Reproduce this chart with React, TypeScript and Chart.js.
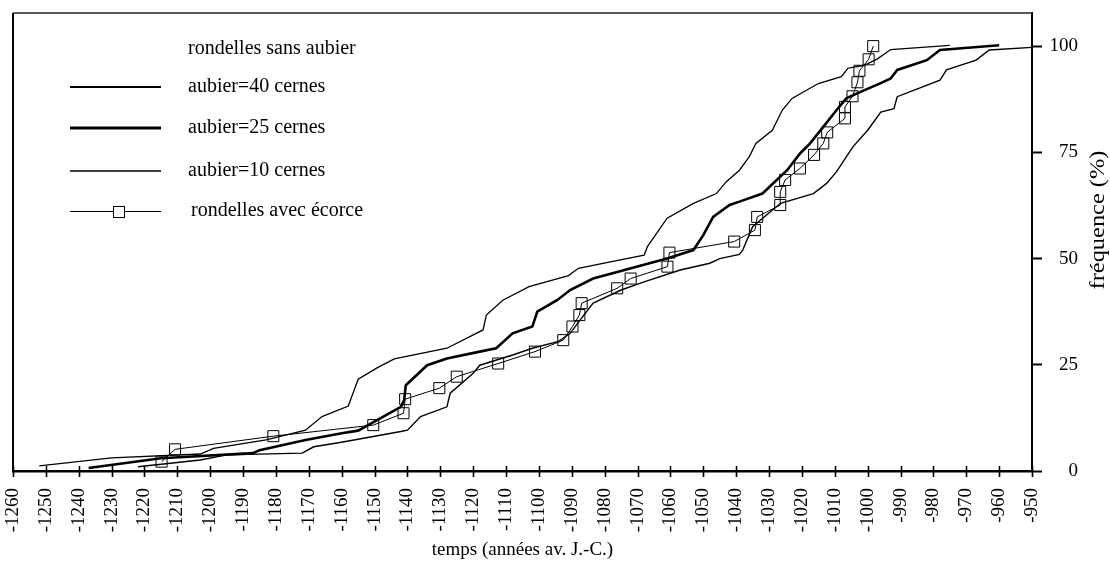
import React, { useEffect, useRef } from "react";
import { Chart, registerables } from "chart.js";

Chart.register(...registerables);

// ---- axes ----
const X_MIN = -1260;
const X_MAX = -950;
const Y_MIN = 0;
const Y_MAX = 107.8;
const xTickValues = [
  -1260, -1250, -1240, -1230, -1220, -1210, -1200, -1190, -1180, -1170, -1160,
  -1150, -1140, -1130, -1120, -1110, -1100, -1090, -1080, -1070, -1060, -1050,
  -1040, -1030, -1020, -1010, -1000, -990, -980, -970, -960, -950,
];
const yTickValues = [0, 25, 50, 75, 100];

const xTitle = "temps (années av. J.-C.)";
const yTitle = "fréquence (%)";
const legendHeader = "rondelles sans aubier";
const labelAubier40 = "aubier=40 cernes";
const labelAubier25 = "aubier=25 cernes";
const labelAubier10 = "aubier=10 cernes";
const labelEcorce = "rondelles avec écorce";

// ---- aubier = 10 cernes (leftmost curve) ----
const aubier10Years = [
  -1252, -1230, -1203, -1199, -1183, -1171, -1166, -1158, -1155, -1149, -1144,
  -1128, -1117, -1116, -1111, -1103, -1091, -1088, -1076, -1068, -1067, -1061,
  -1053, -1046, -1043, -1039, -1036, -1034, -1029, -1026, -1023, -1015, -1008,
  -1006, -1001, -997, -993, -975,
];
const aubier10Freq = [
  1.2, 3.1, 4.0, 5.3, 7.3, 9.6, 12.8, 15.3, 21.6, 24.4, 26.4, 28.9, 33.2, 36.7,
  40.2, 43.4, 46.0, 47.7, 49.6, 50.8, 52.8, 59.5, 63.0, 65.3, 68.1, 70.8, 74.0,
  77.1, 80.2, 84.9, 87.7, 91.2, 92.8, 94.8, 95.5, 97.0, 99.2, 100.2,
];

// ---- aubier = 25 cernes (thick middle curve) ----
const aubier25Years = [
  -1237, -1215, -1187, -1185, -1171, -1160, -1155, -1142, -1141, -1140.5, -1134,
  -1128, -1118, -1113, -1108, -1102, -1100.5, -1094.5, -1090.5, -1083.5, -1072,
  -1061, -1053, -1050, -1047, -1042, -1039, -1032, -1024.5, -1020.5, -1017.5,
  -1013.5, -1009.5, -1006.5, -1002, -996, -993, -991, -982, -978, -960,
];
const aubier25Freq = [
  0.7, 3.0, 4.2, 4.9, 7.3, 8.9, 9.5, 15.1, 16.7, 20.2, 24.9, 26.5, 28.1, 28.9,
  32.4, 34.0, 37.5, 40.2, 42.6, 45.3, 47.7, 50.0, 52.0, 55.5, 59.8, 62.6, 63.4,
  65.3, 70.8, 74.8, 77.1, 81.0, 84.9, 87.7, 89.3, 91.3, 92.4, 94.4, 96.7, 99.1,
  100.2,
];

// ---- aubier = 40 cernes (rightmost curve) ----
const aubier40Years = [
  -1222, -1203, -1195, -1172, -1168.5, -1160.5, -1142, -1140, -1136, -1128,
  -1127, -1120, -1118, -1108, -1102, -1094, -1090.5, -1087.5, -1083.5, -1075,
  -1068, -1057, -1048, -1045, -1039, -1038, -1035, -1026.5, -1016.5, -1012.5,
  -1009.5, -1004.5, -1000, -996, -992, -991, -978, -976, -967, -963, -950,
];
const aubier40Freq = [
  1.0, 2.6, 3.8, 4.2, 5.7, 6.7, 9.3, 9.6, 12.8, 15.1, 18.3, 23.0, 24.9, 27.3,
  28.9, 30.5, 32.4, 35.5, 39.5, 42.6, 44.5, 47.3, 48.9, 50.0, 51.0, 52.0, 57.5,
  63.0, 65.3, 67.7, 70.4, 76.3, 80.2, 84.5, 85.3, 88.1, 92.0, 94.4, 96.7, 99.1,
  99.7,
];

// ---- rondelles avec écorce (squares) ----
const ecorceYears = [
  -1214.8, -1210.7, -1180.8, -1150.4, -1141.2, -1140.7, -1130.3, -1125, -1112.4,
  -1101.2, -1092.6, -1089.8, -1087.7, -1087, -1076.2, -1072.1, -1060.9, -1060.3,
  -1040.6, -1034.3, -1033.6, -1026.6, -1026.6, -1025.1, -1020.6, -1016.3,
  -1013.5, -1012.3, -1006.9, -1006.9, -1004.6, -1003.1, -1002.5, -999.7, -998.3,
];
const ecorceFreq = [
  2.2, 5.1, 8.2, 10.8, 13.6, 16.9, 19.5, 22.2, 25.3, 28.1, 30.8, 34.0, 36.7,
  39.5, 43.0, 45.3, 48.1, 51.4, 54.0, 56.7, 59.8, 62.6, 65.7, 68.5, 71.2, 74.4,
  77.1, 79.7, 83.0, 85.7, 88.2, 91.5, 94.2, 96.9, 100.0,
];

const pts = (xs: number[], ys: number[]) => xs.map((x, i) => ({ x, y: ys[i] }));

const SERIF = "'Liberation Serif', 'Times New Roman', serif";

export default function App() {
  const ref = useRef<HTMLCanvasElement>(null);

  useEffect(() => {
    if (!ref.current) return;

    const decorPlugin = {
      id: "decor",
      afterDraw(chart: any) {
        const ctx = chart.ctx as CanvasRenderingContext2D;
        const area = chart.chartArea;
        const xs = chart.scales.x;
        ctx.save();
        // frame (top & left)
        ctx.strokeStyle = "#222";
        ctx.lineWidth = 1.5;
        ctx.beginPath();
        ctx.moveTo(area.left, area.top);
        ctx.lineTo(area.right, area.top);
        ctx.stroke();
        ctx.strokeStyle = "#000";
        ctx.lineWidth = 2;
        ctx.beginPath();
        ctx.moveTo(area.left, area.top);
        ctx.lineTo(area.left, area.bottom);
        ctx.stroke();

        // x ticks crossing the axis
        ctx.lineWidth = 1.6;
        ctx.strokeStyle = "#000";
        for (const v of xTickValues) {
          const px = Math.round(xs.getPixelForValue(v)) + 0.5;
          ctx.beginPath();
          ctx.moveTo(px, area.bottom - 5);
          ctx.lineTo(px, area.bottom + 6);
          ctx.stroke();
        }

        // legend
        ctx.fillStyle = "#000";
        ctx.font = `20px ${SERIF}`;
        ctx.textBaseline = "middle";
        ctx.textAlign = "left";
        const lx0 = 70;
        const lx1 = 161;
        const tx = 188;
        ctx.fillText(legendHeader, tx, 49);
        const rows = [
          { y: 87, w: 2, label: labelAubier40 },
          { y: 128, w: 3, label: labelAubier25 },
          { y: 171, w: 1.3, label: labelAubier10 },
        ];
        for (const r of rows) {
          ctx.lineWidth = r.w;
          ctx.beginPath();
          ctx.moveTo(lx0, r.y);
          ctx.lineTo(lx1, r.y);
          ctx.stroke();
          ctx.fillText(r.label, tx, r.y);
        }
        ctx.lineWidth = 1;
        ctx.beginPath();
        ctx.moveTo(lx0, 211.5);
        ctx.lineTo(lx1, 211.5);
        ctx.stroke();
        ctx.fillStyle = "#fff";
        ctx.fillRect(113, 206, 11, 11);
        ctx.strokeRect(113.5, 206.5, 11, 11);
        ctx.fillStyle = "#000";
        ctx.fillText(labelEcorce, 191, 211);

        // y title (rotated)
        ctx.translate(1099, 220);
        ctx.rotate(-Math.PI / 2);
        ctx.scale(1.22, 1);
        ctx.textAlign = "center";
        ctx.font = `20px ${SERIF}`;
        ctx.fillText(yTitle, 0, 0);
        ctx.restore();
      },
    };

    const chart = new Chart(ref.current, {
      type: "line",
      data: {
        datasets: [
          {
            label: labelAubier10,
            data: pts(aubier10Years, aubier10Freq),
            borderColor: "#000",
            borderWidth: 1.3,
            pointRadius: 0,
            tension: 0,
          },
          {
            label: labelAubier25,
            data: pts(aubier25Years, aubier25Freq),
            borderColor: "#000",
            borderWidth: 2.6,
            pointRadius: 0,
            tension: 0,
          },
          {
            label: labelAubier40,
            data: pts(aubier40Years, aubier40Freq),
            borderColor: "#000",
            borderWidth: 1.4,
            pointRadius: 0,
            tension: 0,
          },
          {
            label: labelEcorce,
            data: pts(ecorceYears, ecorceFreq),
            borderColor: "#000",
            borderWidth: 1,
            pointStyle: "rect",
            pointRadius: 7.8,
            pointBackgroundColor: "rgba(255,255,255,0)",
            pointBorderColor: "#000",
            pointBorderWidth: 1,
            tension: 0,
          },
        ],
      },
      options: {
        responsive: false,
        animation: false,
        devicePixelRatio: 1,
        layout: { padding: { left: 13, top: 13, right: 32, bottom: 0 } },
        plugins: {
          legend: { display: false },
          tooltip: { enabled: false },
        },
        scales: {
          x: {
            type: "linear",
            position: "bottom",
            min: X_MIN,
            max: X_MAX,
            afterBuildTicks: (scale: any) => {
              scale.ticks = xTickValues.map((v) => ({ value: v }));
            },
            afterFit: (scale: any) => {
              scale.height = 93;
              scale.paddingLeft = 0;
              scale.paddingRight = 0;
            },
            grid: { display: false, drawTicks: false },
            border: { display: true, color: "#000", width: 2.5 },
            ticks: {
              autoSkip: false,
              maxRotation: 90,
              minRotation: 90,
              padding: 17,
              color: "#000",
              font: { family: SERIF, size: 19 },
              callback: (v: any) => String(v),
            },
            title: {
              display: true,
              text: xTitle,
              color: "#000",
              font: { family: SERIF, size: 19 },
              padding: { top: 0, bottom: 3 },
            },
          },
          y: {
            type: "linear",
            position: "right",
            min: Y_MIN,
            max: Y_MAX,
            afterBuildTicks: (scale: any) => {
              scale.ticks = yTickValues.map((v) => ({ value: v }));
            },
            afterFit: (scale: any) => {
              scale.width = 46;
              scale.paddingTop = 0;
              scale.paddingBottom = 0;
            },
            grid: {
              display: true,
              drawOnChartArea: false,
              drawTicks: true,
              tickLength: 10,
              tickWidth: 2,
              tickColor: "#000",
            },
            border: { display: true, color: "#000", width: 2 },
            ticks: {
              padding: 8,
              crossAlign: "far",
              color: "#000",
              font: { family: SERIF, size: 19 },
              callback: (v: any) => String(v),
            },
          },
        },
      },
      plugins: [decorPlugin],
    } as any);

    return () => chart.destroy();
  }, []);

  return (
    <div
      style={{
        position: "absolute",
        left: 0,
        top: 0,
        width: 1110,
        height: 564,
        background: "#fff",
      }}
    >
      <canvas ref={ref} width={1110} height={564} style={{ display: "block" }} />
    </div>
  );
}
